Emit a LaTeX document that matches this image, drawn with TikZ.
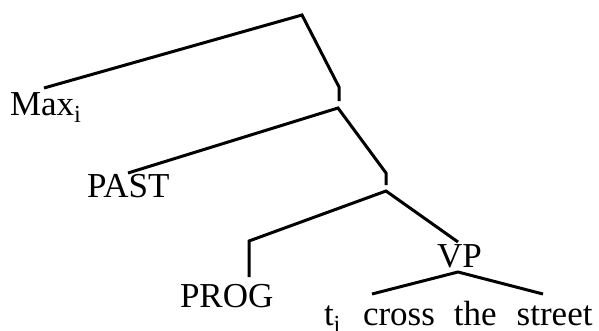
\documentclass[tikz,border=0pt]{standalone}
\usepackage{fontspec}
\setmainfont{Liberation Serif}
\begin{document}
\begin{tikzpicture}[x=1pt,y=-1pt,
  lbl/.style={anchor=base west,inner sep=0pt,outer sep=0pt,font=\fontsize{35}{40}\selectfont},
  br/.style={line width=3pt,line join=miter,line cap=butt}]
\useasboundingbox (0,0) rectangle (599,330);
% branch points
\coordinate (top) at (302,15);
\coordinate (maxend) at (44,88);
\coordinate (k1) at (339,87);
\coordinate (k1b) at (339,101);
\coordinate (n2) at (338,108);
\coordinate (pastend) at (128,173);
\coordinate (k2) at (386,173);
\coordinate (k2b) at (386,185);
\coordinate (n3) at (386,191);
\coordinate (k3) at (249,241);
\coordinate (k3b) at (249,277);
\coordinate (vptop) at (458,242);
\coordinate (vpbot) at (458,272);
\coordinate (tl) at (372,294);
\coordinate (tr) at (543,294);
% labels
\node[lbl] (max) at (10,115) {Max\textsubscript{i}};
\node[lbl] (past) at (87,197) {PAST};
\node[lbl] (prog) at (180,307) {PROG};
\node[lbl] (vp) at (437,267) {VP};
\node[lbl] (ts) at (324,325) {t\textsubscript{i}\hspace*{22pt}cross\hspace*{19pt}the\hspace*{20pt}street};
% branches
\draw[br] (maxend) -- (top) -- (k1) -- (k1b);
\draw[br] (pastend) -- (n2) -- (k2) -- (k2b);
\draw[br] (k3b) -- (k3) -- (n3) -- (vptop);
\draw[br] (tl) -- (vpbot) -- (tr);
\end{tikzpicture}
\end{document}
